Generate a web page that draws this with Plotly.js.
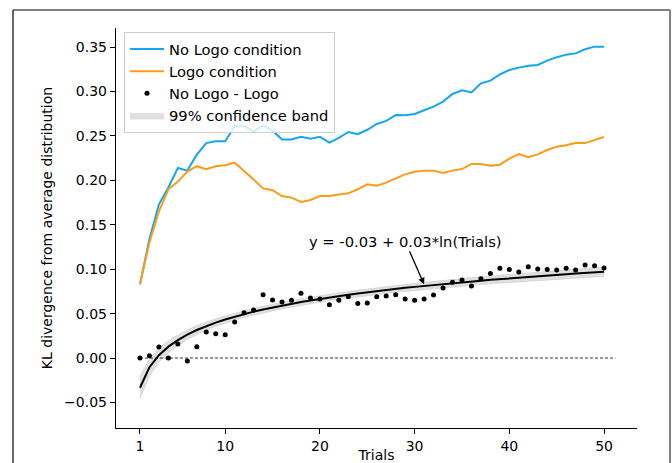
<!DOCTYPE html>
<html>
<head>
<meta charset="utf-8">
<script src="https://cdn.plot.ly/plotly-3.0.1.min.js"></script>
<style>
  html, body { margin: 0; padding: 0; background: #fff; }
  #chart { width: 672px; height: 463px; }
</style>
</head>
<body>
<div id="chart"></div>
<script>
// ---- data ----
const TRIALS = Array.from({length: 50}, (_, i) => i + 1);

const NO_LOGO = [0.083, 0.134, 0.173, 0.192, 0.214, 0.211, 0.229, 0.242, 0.244, 0.244,
  0.261, 0.261, 0.255, 0.262, 0.256, 0.246, 0.246, 0.249, 0.247, 0.249,
  0.2425, 0.248, 0.2545, 0.252, 0.257, 0.2635, 0.267, 0.2735, 0.2733, 0.2748,
  0.279, 0.283, 0.2887, 0.2973, 0.3014, 0.299, 0.3093, 0.3123, 0.3194, 0.3243,
  0.327, 0.329, 0.330, 0.3348, 0.3386, 0.3416, 0.343, 0.3476, 0.3506, 0.3506];

const LOGO = [0.083, 0.13, 0.165, 0.19, 0.1986, 0.21, 0.216, 0.2125, 0.216, 0.217,
  0.22, 0.211, 0.201, 0.191, 0.189, 0.1824, 0.1806, 0.1757, 0.178, 0.1824,
  0.1824, 0.184, 0.1854, 0.19, 0.1956, 0.194, 0.1975, 0.2023, 0.2068, 0.2098,
  0.211, 0.211, 0.2083, 0.211, 0.2128, 0.2185, 0.2185, 0.2166, 0.2177, 0.2245,
  0.2297, 0.226, 0.2293, 0.2342, 0.238, 0.2395, 0.242, 0.242, 0.2455, 0.2489];

const DIFF = [0, 0.0026, 0.0124, 0, 0.0158, -0.0034, 0.0128, 0.0293, 0.0274, 0.0263,
  0.0405, 0.051, 0.054, 0.0713, 0.0653, 0.063, 0.065, 0.0728, 0.0676, 0.0664,
  0.060, 0.065, 0.069, 0.0615, 0.0619, 0.069, 0.0698, 0.0713, 0.0664, 0.065,
  0.0664, 0.0709, 0.0788, 0.0852, 0.0878, 0.081, 0.0893, 0.0953, 0.101, 0.0998,
  0.0968, 0.1028, 0.1002, 0.0998, 0.0991, 0.101, 0.0991, 0.1047, 0.104, 0.1014];

// fitted curve
const FIT = [-0.0335, -0.0104, 0.0032, 0.0128, 0.0202, 0.0264, 0.0315, 0.0359, 0.0399, 0.0434,
  0.0466, 0.0495, 0.0522, 0.0546, 0.0569, 0.0591, 0.0611, 0.0630, 0.0648, 0.0666,
  0.0682, 0.0697, 0.0712, 0.0726, 0.0740, 0.0753, 0.0766, 0.0778, 0.0790, 0.0801,
  0.0812, 0.0823, 0.0833, 0.0843, 0.0852, 0.0862, 0.0871, 0.0880, 0.0889, 0.0897,
  0.0905, 0.0913, 0.0921, 0.0929, 0.0937, 0.0944, 0.0951, 0.0958, 0.0965, 0.0972];

// half-width of the 99% band
const BAND_HALF = [0.013, 0.010, 0.008, 0.007, 0.006, 0.0055, 0.005, 0.0047, 0.0045, 0.0042,
  0.0041, 0.004, 0.004, 0.0039, 0.0039, 0.0038, 0.0038, 0.0038, 0.0038, 0.0038,
  0.0038, 0.0038, 0.0039, 0.0039, 0.0039, 0.0039, 0.004, 0.004, 0.004, 0.004,
  0.0041, 0.0042, 0.0042, 0.0043, 0.0043, 0.0044, 0.0045, 0.0045, 0.0046, 0.0047,
  0.0048, 0.0048, 0.0049, 0.005, 0.005, 0.0051, 0.0052, 0.0053, 0.0054, 0.0055];

const ZERO_X = [1, 51.2];
const ZERO_Y = [0, 0];

const X_TICKS = [1, 10, 20, 30, 40, 50];
const X_TICK_TEXT = ['1', '10', '20', '30', '40', '50'];
const Y_TICKS = [-0.05, 0, 0.05, 0.10, 0.15, 0.20, 0.25, 0.30, 0.35];
const Y_TICK_TEXT = ['\u22120.05', '0.00', '0.05', '0.10', '0.15', '0.20', '0.25', '0.30', '0.35'];

const FIT_LABEL = 'y = -0.03 + 0.03*ln(Trials)';
const ARROW_AT = {x: 31, y: 0.083};

// ---- build ----
const upper = FIT.map((v, i) => v + BAND_HALF[i]);
const lower = FIT.map((v, i) => v - BAND_HALF[i]);
const bandX = TRIALS.concat(TRIALS.slice().reverse());
const bandY = upper.concat(lower.slice().reverse());

const FONT = 'DejaVu Sans, sans-serif';
const TXT = 14.7;

const traces = [
  {x: bandX, y: bandY, type: 'scatter', mode: 'lines', fill: 'toself',
   fillcolor: 'rgba(0,0,0,0.12)', line: {width: 0.6, color: 'rgba(0,0,0,0.14)'},
   name: '99% confidence band', legendrank: 4, legendgroup: 'd', hoverinfo: 'skip'},
  {x: ZERO_X, y: ZERO_Y, type: 'scatter', mode: 'lines',
   line: {color: 'black', width: 0.8, dash: '3px,2px'}, showlegend: false},
  {x: TRIALS, y: NO_LOGO, type: 'scatter', mode: 'lines',
   line: {color: '#14a6ee', width: 2}, name: 'No Logo condition', legendrank: 1, legendgroup: 'a'},
  {x: TRIALS, y: LOGO, type: 'scatter', mode: 'lines',
   line: {color: '#fb9b17', width: 2}, name: 'Logo condition', legendrank: 2, legendgroup: 'b'},
  {x: TRIALS, y: FIT, type: 'scatter', mode: 'lines',
   line: {color: 'black', width: 2}, showlegend: false},
  {x: TRIALS, y: DIFF, type: 'scatter', mode: 'markers',
   marker: {color: 'black', size: 5}, name: 'No Logo - Logo', legendrank: 3, legendgroup: 'c'}
];

const layout = {
  width: 672, height: 463,
  margin: {l: 116, r: 35, t: 28, b: 35},
  paper_bgcolor: 'white', plot_bgcolor: 'white',
  font: {family: FONT, size: 14, color: 'black'},
  showlegend: true,
  legend: {x: 0.0154, y: 0.99, xanchor: 'left', yanchor: 'top',
    bgcolor: 'rgba(255,255,255,0.8)', bordercolor: '#cccccc', borderwidth: 1,
    font: {family: FONT, size: TXT, color: 'black'}, tracegroupgap: 4,
    itemwidth: 34, traceorder: 'normal'},
  xaxis: {
    range: [-1.53, 53.48], tickvals: X_TICKS, ticktext: X_TICK_TEXT,
    showgrid: false, zeroline: false, showline: true, linecolor: 'black', linewidth: 1.2,
    ticks: 'outside', ticklen: 5, tickwidth: 1, tickcolor: 'black',
    tickfont: {family: FONT, size: 14, color: 'black'},
    title: {text: 'Trials', font: {family: FONT, size: 14, color: 'black'}, standoff: 4},
    automargin: false
  },
  yaxis: {
    range: [-0.0788, 0.3716], tickvals: Y_TICKS, ticktext: Y_TICK_TEXT,
    showgrid: false, zeroline: false, showline: true, linecolor: 'black', linewidth: 1.2,
    ticks: 'outside', ticklen: 5, tickwidth: 1, tickcolor: 'black',
    tickfont: {family: FONT, size: 14, color: 'black'},
    title: {text: 'KL divergence from average distribution', font: {family: FONT, size: 14, color: 'black'}, standoff: 8},
    automargin: false
  },
  annotations: [
    {x: ARROW_AT.x, y: ARROW_AT.y, xref: 'x', yref: 'y', text: FIT_LABEL,
     showarrow: true, ax: -19, ay: -43, arrowhead: 2, arrowsize: 1, arrowwidth: 1.3,
     arrowcolor: 'black', font: {family: FONT, size: TXT, color: 'black'}, standoff: 0}
  ],
  shapes: [
    {type: 'line', xref: 'paper', yref: 'paper', x0: -0.1977, x1: 1.0633, y0: 1.045, y1: 1.045,
     line: {color: 'black', width: 1.2}},
    {type: 'line', xref: 'paper', yref: 'paper', x0: -0.1977, x1: -0.1977, y0: 1.045, y1: -0.12,
     line: {color: 'black', width: 1.2}},
    {type: 'line', xref: 'paper', yref: 'paper', x0: 1.0633, x1: 1.0633, y0: 1.045, y1: -0.12,
     line: {color: '#808080', width: 2}}
  ]
};

Plotly.newPlot('chart', traces, layout, {displayModeBar: false, staticPlot: true});
</script>
</body>
</html>
